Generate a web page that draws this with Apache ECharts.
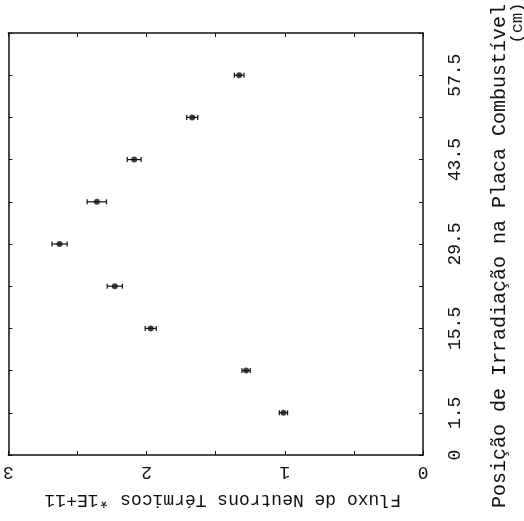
<!DOCTYPE html>
<html lang="pt">
<head>
    <meta charset="UTF-8">
    <script src="https://cdn.jsdelivr.net/npm/echarts@6/dist/echarts.min.js"></script>
    <title>Fluxo de Neutrons Térmicos</title>
    <style>
        html, body { margin: 0; padding: 0; background: #fff; }
        #chart { width: 524px; height: 521px; }
    </style>
</head>
<body>
<div id="chart"></div>
<script type="text/javascript">
    // posicoes (cm) - eixo de categorias, '0' na origem e uma vaga no topo
    var posicoes = ['0', '1.5', '8.5', '15.5', '22.5', '29.5', '36.5', '43.5', '50.5', '57.5', ''];
    var rotulosPos = ['0', '1.5', '15.5', '29.5', '43.5', '57.5'];
    // fluxo medido (*1E+11) e incerteza
    var pontosPos = ['1.5', '8.5', '15.5', '22.5', '29.5', '36.5', '43.5', '50.5', '57.5'];
    var fluxo = [1.01, 1.28, 1.97, 2.23, 2.63, 2.36, 2.09, 1.67, 1.33];
    var erro = [0.03, 0.03, 0.04, 0.055, 0.055, 0.07, 0.05, 0.04, 0.035];
    var rotulosFluxo = [0, 1, 2, 3];

    var fonte = 'Liberation Mono';
    var preto = '#111';

    var dadosPontos = [];
    var dadosErro = [];
    for (var i = 0; i < fluxo.length; i++) {
        dadosPontos.push([fluxo[i], pontosPos[i]]);
        dadosErro.push([fluxo[i] - erro[i], fluxo[i] + erro[i], pontosPos[i]]);
    }

    var linha = { show: true, onZero: false, lineStyle: { color: preto, width: 1.5 } };
    var tique = { show: true, inside: true, length: 4, lineStyle: { color: preto } };

    var myChart = echarts.init(document.getElementById('chart'));
    var option = {
        backgroundColor: '#fff',
        animation: false,
        grid: { left: 8, right: 101, top: 33, bottom: 66 },
        xAxis: [
            {
                type: 'value',
                inverse: true,
                min: 0,
                max: 3,
                interval: 0.5,
                position: 'bottom',
                name: 'Fluxo de Neutrons Térmicos *1E+11',
                nameLocation: 'middle',
                nameRotate: 180,
                nameGap: 36,
                nameTextStyle: { fontFamily: fonte, fontSize: 18, color: preto, padding: [0, 14, 0, 0] },
                splitLine: { show: false },
                axisLine: linha,
                axisTick: tique,
                axisLabel: {
                    rotate: 180,
                    margin: 8,
                    fontFamily: fonte,
                    fontSize: 18,
                    color: preto,
                    formatter: function (v) {
                        return rotulosFluxo.indexOf(v) >= 0 ? String(v) : '';
                    }
                }
            },
            {
                type: 'value',
                inverse: true,
                min: 0,
                max: 3,
                interval: 0.5,
                position: 'top',
                splitLine: { show: false },
                axisLine: linha,
                axisTick: tique,
                axisLabel: { show: false }
            }
        ],
        yAxis: [
            {
                type: 'category',
                data: posicoes,
                boundaryGap: false,
                position: 'right',
                name: 'Posição de Irradiação na Placa Combustível',
                nameLocation: 'middle',
                nameRotate: 90,
                nameGap: 67,
                nameTextStyle: { fontFamily: fonte, fontSize: 20, color: preto, padding: [0, 24, 0, 0] },
                splitLine: { show: false },
                axisLine: linha,
                axisTick: { show: true, inside: true, length: 4, alignWithLabel: true, lineStyle: { color: preto } },
                axisLabel: {
                    rotate: 90,
                    margin: 23,
                    interval: 0,
                    fontFamily: fonte,
                    fontSize: 18,
                    color: preto,
                    formatter: function (v) {
                        return rotulosPos.indexOf(v) >= 0 ? v : '';
                    }
                }
            },
            {
                type: 'category',
                data: posicoes,
                boundaryGap: false,
                position: 'left',
                splitLine: { show: false },
                axisLine: linha,
                axisTick: tique,
                axisLabel: { show: false }
            }
        ],
        graphic: [
            {
                type: 'text',
                x: 517,
                y: 23,
                rotation: Math.PI / 2,
                style: {
                    text: '(cm)',
                    font: '17px "Liberation Mono"',
                    fill: preto,
                    textAlign: 'center',
                    textVerticalAlign: 'middle'
                }
            }
        ],
        series: [
            {
                name: 'erro',
                type: 'custom',
                data: dadosErro,
                encode: { x: [0, 1], y: 2 },
                renderItem: function (params, api) {
                    var a = api.coord([api.value(0), api.value(2)]);
                    var b = api.coord([api.value(1), api.value(2)]);
                    var cap = 2.5;
                    var estilo = { stroke: preto, lineWidth: 1.2 };
                    return {
                        type: 'group',
                        children: [
                            { type: 'line', shape: { x1: a[0], y1: a[1], x2: b[0], y2: b[1] }, style: estilo },
                            { type: 'line', shape: { x1: a[0], y1: a[1] - cap, x2: a[0], y2: a[1] + cap }, style: estilo },
                            { type: 'line', shape: { x1: b[0], y1: b[1] - cap, x2: b[0], y2: b[1] + cap }, style: estilo }
                        ]
                    };
                }
            },
            {
                name: 'fluxo',
                type: 'scatter',
                data: dadosPontos,
                symbol: 'circle',
                symbolSize: 6,
                itemStyle: { color: preto }
            }
        ]
    };
    myChart.setOption(option);
</script>
</body>
</html>
